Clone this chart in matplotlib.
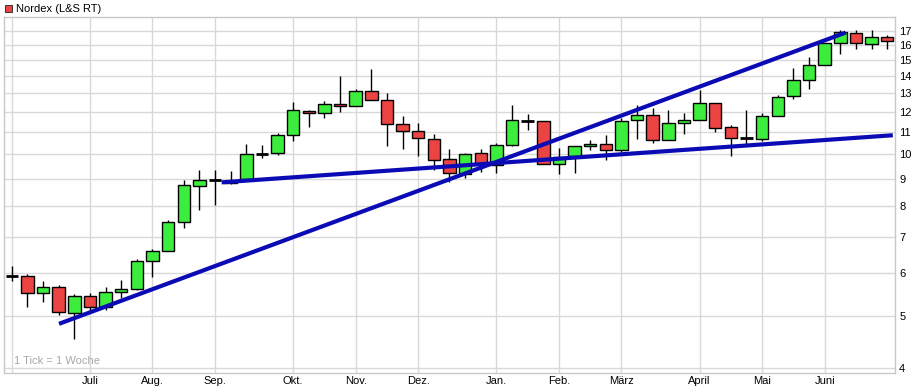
import numpy as np
import matplotlib.pyplot as plt
from matplotlib.ticker import FixedLocator, NullLocator, NullFormatter
from matplotlib.patches import Rectangle

plt.rcParams['font.family'] = ['Liberation Sans', 'DejaVu Sans']

## weekly candles, Nordex (L&S RT)
opens = [5.94, 5.92, 5.51, 5.67, 5.07, 5.44, 5.19, 5.53, 5.60, 6.32,
         6.60, 7.47, 8.72, 8.95, 8.85, 9.00, 10.02, 10.05, 10.86, 12.05,
         11.94, 12.42, 12.30, 13.12, 12.62, 11.38, 11.05, 10.67, 9.80, 9.18,
         10.05, 9.55, 10.40, 11.56, 11.53, 9.59, 9.95, 10.36, 10.45, 10.18,
         11.58, 11.83, 10.63, 11.43, 11.58, 12.46, 11.24, 10.72, 10.67, 11.78,
         12.84, 13.75, 14.67, 16.12, 16.83, 16.05, 16.57]
highs = [6.19, 5.98, 5.81, 5.71, 5.49, 5.51, 5.67, 5.83, 6.38, 6.65,
         7.55, 8.96, 9.36, 9.36, 9.31, 10.46, 10.42, 10.98, 12.53, 12.09,
         12.60, 14.01, 13.23, 14.44, 13.01, 11.80, 11.45, 10.91, 10.25, 10.05,
         10.25, 10.49, 12.37, 11.90, 11.53, 10.27, 10.36, 10.63, 10.87, 11.68,
         12.37, 12.21, 12.09, 11.97, 13.19, 12.46, 11.35, 12.11, 11.94, 12.90,
         14.48, 15.18, 16.12, 17.07, 17.07, 17.07, 16.71]
lows = [5.81, 5.20, 5.31, 5.02, 4.53, 5.11, 5.12, 5.39, 5.59, 5.90,
        6.60, 7.30, 7.89, 8.05, 8.82, 9.00, 9.86, 9.99, 10.61, 11.27,
        11.71, 12.02, 12.30, 12.62, 10.39, 10.25, 9.95, 9.36, 8.87, 9.03,
        9.28, 9.25, 10.36, 11.11, 9.59, 9.18, 9.22, 10.21, 9.75, 10.09,
        10.70, 10.49, 10.63, 10.91, 11.58, 11.03, 9.92, 10.46, 10.60, 11.78,
        12.68, 13.23, 14.67, 15.38, 15.71, 15.71, 15.71]
closes = [5.94, 5.51, 5.66, 5.09, 5.44, 5.19, 5.53, 5.61, 6.33, 6.60,
          7.48, 8.76, 8.95, 8.95, 8.94, 10.01, 10.02, 10.86, 12.09, 11.94,
          12.42, 12.30, 13.12, 12.62, 11.38, 11.05, 10.72, 9.75, 9.22, 10.01,
          9.58, 10.40, 11.58, 11.56, 9.59, 9.91, 10.36, 10.45, 10.18, 11.56,
          11.83, 10.63, 11.43, 11.58, 12.46, 11.19, 10.72, 10.72, 11.78, 12.79,
          13.75, 14.67, 16.12, 16.90, 16.12, 16.57, 16.26]

## month labels at week index
month_weeks = [5, 9, 13, 18, 22, 26, 31, 35, 39, 44, 48, 52]
month_names = ['Juli', 'Aug.', 'Sep.', 'Okt.', 'Nov.', 'Dez.', 'Jan.', 'Feb.',
               'März', 'April', 'Mai', 'Juni']

## trend lines (week, price)
trend1_x = [3.02, 53.34]
trend1_y = [4.83, 16.88]
trend2_x = [13.42, 56.36]
trend2_y = [8.87, 10.86]

y_ticks = list(range(4, 18))

GREEN = '#3ded3d'
RED = '#ec4343'
GRID = '#d9d9d9'

fig = plt.figure(figsize=(9.2, 3.89), dpi=100)
ax = fig.add_axes([4 / 920, 16 / 389, 891 / 920, 356 / 389])

ax.set_yscale('log')
ax.set_xlim(-0.5, 56.5)
ax.set_ylim(3.91, 18.05)

ax.yaxis.set_major_locator(FixedLocator(y_ticks))
ax.yaxis.set_minor_locator(NullLocator())
ax.yaxis.set_minor_formatter(NullFormatter())
ax.set_yticklabels([str(t) for t in y_ticks])
ax.yaxis.tick_right()

ax.xaxis.set_major_locator(FixedLocator(month_weeks))
ax.xaxis.set_minor_locator(FixedLocator([0]))
ax.set_xticklabels(month_names)

ax.grid(True, which='both', color=GRID, linewidth=1, zorder=0)
ax.set_axisbelow(True)
ax.tick_params(axis='both', which='both', length=0, labelsize=8, colors='black', pad=2)
ax.tick_params(axis='y', pad=3)
for s in ax.spines.values():
    s.set_color('#c8c8c8')
    s.set_linewidth(1)

w = 0.8
for i in range(len(opens)):
    o, h, l, c = opens[i], highs[i], lows[i], closes[i]
    ax.plot([i, i], [l, h], color='black', lw=1, zorder=2, solid_capstyle='butt')
    if abs(o - c) < 1e-9:
        ax.plot([i - w / 2, i + w / 2], [o, o], color='black', lw=2, zorder=3,
                solid_capstyle='butt')
    else:
        col = GREEN if c > o else RED
        lo, hi = min(o, c), max(o, c)
        ax.add_patch(Rectangle((i - w / 2, lo), w, hi - lo, facecolor=col,
                               edgecolor='black', lw=1, zorder=3))

ax.plot(trend1_x, trend1_y, color='#0b0bb5', lw=3, zorder=5, solid_capstyle='butt')
ax.plot(trend2_x, trend2_y, color='#0b0bb5', lw=3, zorder=5, solid_capstyle='butt')

ax.text(10 / 891, 0.02, '1 Tick = 1 Woche', transform=ax.transAxes,
        fontsize=8, color='#a8a8a8', va='bottom', ha='left')

## title with coloured box
fig.patches.append(Rectangle((5 / 920, 1 - 12 / 389), 7 / 920, 7 / 389,
                             transform=fig.transFigure, facecolor=RED,
                             edgecolor='#333333', lw=0.7))
fig.text(16 / 920, 1 - 8.5 / 389, 'Nordex (L&S RT)', fontsize=8, va='center', ha='left')

fig.savefig('out.png', dpi=100)
